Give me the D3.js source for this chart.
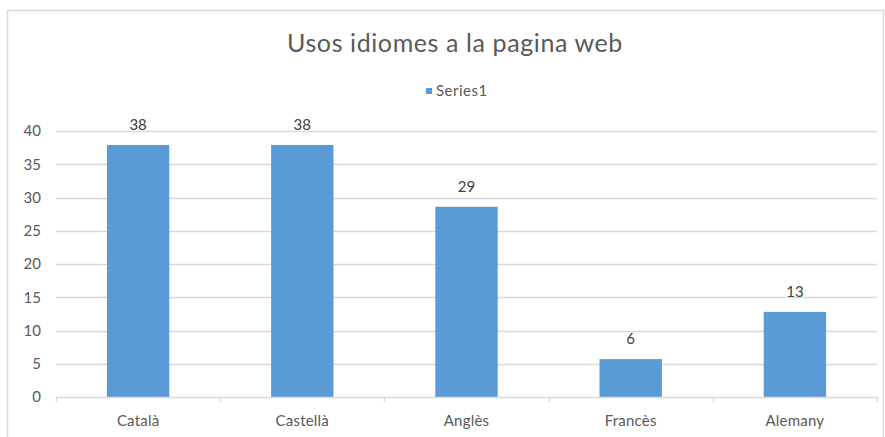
<!DOCTYPE html>
<html>
<head>
<meta charset="utf-8">
<script src="https://cdn.jsdelivr.net/npm/d3@7"></script>
<style>
  body { margin: 0; background: #fff; }
  text { font-family: Lato, "Open Sans", sans-serif; fill: #595959; }
</style>
</head>
<body>
<div id="chart"></div>
<script>
// values (labels rounded to whole numbers)
var categories = ["Català", "Castellà", "Anglès", "Francès", "Alemany"];
var values = [37.9, 37.9, 28.6, 5.7, 12.8];
var yTicks = [0, 5, 10, 15, 20, 25, 30, 35, 40];
var seriesName = "Series1";
var title = "Usos idiomes a la pagina web";

var width = 885;
var height = 437;
var barColor = "#5b9bd5";
var gridColor = "#d9d9d9";

var svg = d3.select("#chart").append("svg")
    .attr("width", width)
    .attr("height", height);

svg.append("rect")
    .attr("width", width).attr("height", height)
    .attr("fill", "#fff");

// chart area border
svg.append("rect")
    .attr("x", 7.5).attr("y", 10.5)
    .attr("width", 876).attr("height", 440)
    .attr("fill", "none")
    .attr("stroke", gridColor)
    .attr("stroke-width", 1.5);

var x = d3.scaleBand()
    .domain(categories)
    .range([56, 877])
    .paddingInner(0.62)
    .paddingOuter(0.31);

var y = d3.scaleLinear()
    .domain([0, 40])
    .range([397, 131]);

// gridlines
svg.append("g").selectAll("line")
    .data(yTicks.slice(1))
    .enter().append("line")
    .attr("x1", 56).attr("x2", 877)
    .attr("y1", function(d) { return Math.round(y(d)) + 0.5; })
    .attr("y2", function(d) { return Math.round(y(d)) + 0.5; })
    .attr("stroke", gridColor)
    .attr("stroke-width", 1.3);

// y axis labels
svg.append("g").selectAll("text")
    .data(yTicks)
    .enter().append("text")
    .attr("x", 41)
    .attr("y", function(d) { return y(d); })
    .attr("dy", "0.35em")
    .attr("text-anchor", "end")
    .style("font-size", "15px")
    .text(function(d) { return d; });

// bars
svg.append("g").selectAll("rect")
    .data(values)
    .enter().append("rect")
    .attr("x", function(d, i) { return x(categories[i]); })
    .attr("y", function(d) { return y(d); })
    .attr("width", x.bandwidth())
    .attr("height", function(d) { return y(0) - y(d); })
    .attr("fill", barColor);

// data labels
svg.append("g").selectAll("text")
    .data(values)
    .enter().append("text")
    .attr("x", function(d, i) { return x(categories[i]) + x.bandwidth() / 2; })
    .attr("y", function(d) { return y(d) - 15; })
    .attr("text-anchor", "middle")
    .style("font-size", "15px")
    .style("fill", "#404040")
    .text(function(d) { return d3.format(".0f")(d); });

// x axis line + ticks at category boundaries
svg.append("line")
    .attr("x1", 56).attr("x2", 877)
    .attr("y1", 397.5).attr("y2", 397.5)
    .attr("stroke", gridColor)
    .attr("stroke-width", 1.5);

var boundaries = x.domain().map(function(c) { return x(c) - x.step() * x.paddingInner() / 2; });
boundaries.push(877);
svg.append("g").selectAll("line")
    .data(boundaries)
    .enter().append("line")
    .attr("x1", function(d) { return Math.round(d) + 0.5; })
    .attr("x2", function(d) { return Math.round(d) + 0.5; })
    .attr("y1", 397).attr("y2", 402)
    .attr("stroke", gridColor)
    .attr("stroke-width", 1.5);

svg.append("g").selectAll("text")
    .data(categories)
    .enter().append("text")
    .attr("x", function(d) { return x(d) + x.bandwidth() / 2; })
    .attr("y", 426)
    .attr("text-anchor", "middle")
    .style("font-size", "15px")
    .style("letter-spacing", "0.2px")
    .text(function(d) { return d; });

// title
svg.append("text")
    .attr("x", 455)
    .attr("y", 52)
    .attr("text-anchor", "middle")
    .style("font-size", "25px")
    .style("letter-spacing", "0.6px")
    .text(title);

// legend
var legend = svg.append("g").attr("transform", "translate(426,91)");
legend.append("rect")
    .attr("x", 0).attr("y", -3)
    .attr("width", 6).attr("height", 6)
    .attr("fill", barColor);
legend.append("text")
    .attr("x", 10)
    .attr("dy", "0.35em")
    .style("font-size", "15px")
    .style("letter-spacing", "0.5px")
    .text(seriesName);
</script>
</body>
</html>
